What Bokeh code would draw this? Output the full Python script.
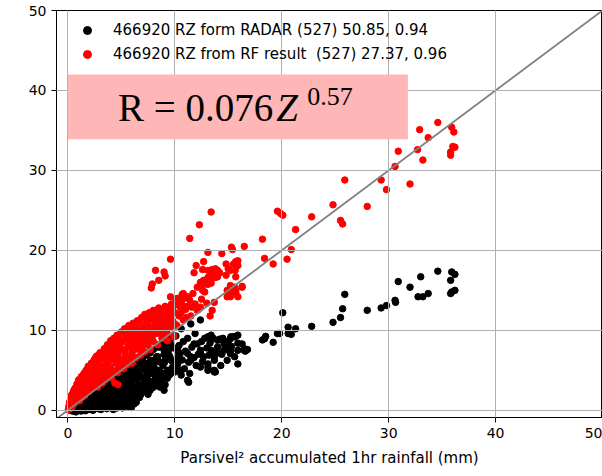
from bokeh.plotting import figure
from bokeh.models import Range1d, Label, BoxAnnotation, Legend, LegendItem, FixedTicker
from bokeh.embed import file_html
from bokeh.resources import INLINE

# ---- data ----
radar_label = "466920 RZ form RADAR (527) 50.85, 0.94"
rf_label = "466920 RZ from RF result  (527) 27.37, 0.96"
x_label = "Parsivel\u00b2 accumulated 1hr rainfall (mm)"
ticks = [0, 10, 20, 30, 40, 50]
one_to_one = [-1, 50]

radar_pts = [
    # dense part
    (0.1, 0.05), (0.2, 0.2), (0.3, 0.0), (0.35, 0.4), (0.5, 0.15), (0.45, -0.1), (0.6, 0.5), (0.7, 0.1), (0.8, 0.8), (0.75, -0.2),
    (0.9, 0.3), (1.0, 1.1), (1.05, 0.0), (1.1, 0.6), (1.2, 1.4), (1.25, -0.1), (1.3, 0.9), (1.4, 0.3), (1.5, 1.7), (1.5, 0.6),
    (1.6, 1.2), (1.65, -0.05), (1.7, 2.0), (1.8, 0.4), (1.85, 1.5), (1.9, 0.9), (2.0, 2.3), (2.0, 0.1), (2.1, 1.8), (2.2, 1.2), (2.2, 0.5),
    (2.3, 2.6), (2.35, 0.0), (2.4, 1.5), (2.5, 0.8), (2.55, 2.1), (2.6, 0.3), (2.7, 3.0), (2.75, 1.1), (2.8, 1.8), (2.9, 2.5), (2.95, 0.5), (3.0, 3.4), (3.0, 1.4),
    (3.1, 0.1), (3.15, 2.2), (3.2, 0.9), (3.3, 2.9), (3.35, 1.7), (3.4, 0.4), (3.5, 3.6), (3.5, 1.2), (3.6, 2.5), (3.65, 0.2), (3.7, 1.9), (3.8, 3.1), (3.8, 0.8),
    (3.9, 4.0), (3.95, 1.5), (4.0, 2.6), (4.1, 0.4), (4.15, 3.4), (4.2, 1.1), (4.3, 2.1), (4.35, 4.3), (4.4, 0.7), (4.5, 3.0), (4.55, 1.7), (4.6, 3.8), (4.6, 0.3),
    (4.7, 2.5), (4.75, 1.2), (4.8, 4.6), (4.9, 3.3), (4.95, 0.6), (5.0, 2.0), (5.1, 4.0), (5.15, 1.5), (5.2, 5.0), (5.25, 2.8), (5.3, 0.9), (5.4, 3.6), (5.4, 2.2),
    (5.5, 4.6), (5.55, 1.3), (5.6, 0.5), (5.65, 3.1), (5.7, 5.4), (5.8, 2.4), (5.85, 4.0), (5.9, 1.8), (6.0, 5.8), (6.0, 3.4), (6.1, 0.8), (6.2, 2.8), (6.25, 4.7), (6.3, 1.4),
    (6.4, 5.3), (6.45, 3.8), (6.5, 2.1), (6.6, 6.2), (6.65, 4.4), (6.7, 1.6), (6.8, 3.2), (6.9, 5.6), (6.95, 2.6), (7.0, 6.6), (7.05, 4.0), (7.1, 2.5), (7.2, 5.0),
    (7.3, 3.4), (7.35, 6.9), (7.4, 4.2), (7.5, 2.0), (7.55, 5.6), (7.6, 3.0), (7.7, 7.2), (7.8, 4.6), (7.85, 6.2), (7.9, 3.6), (8.0, 2.9), (8.0, 7.6), (8.1, 5.3), (8.2, 4.2),
    (8.3, 6.7), (8.4, 3.4), (8.5, 7.9), (8.55, 5.0), (8.7, 6.0), (8.75, 4.0), (8.8, 8.2), (8.9, 5.6), (9.0, 7.0), (9.1, 3.2), (9.15, 6.5), (9.2, 8.6),
    (9.3, 5.0), (9.4, 7.4), (9.5, 4.4), (9.6, 8.9), (9.7, 6.2), (9.8, 5.4), (9.9, 7.8), (10.0, 4.8), (10.1, 9.3), (10.2, 6.6), (10.3, 5.9), (10.4, 8.1), (10.5, 7.1),
    (10.6, 4.4), (10.7, 6.3), (10.8, 8.6), (10.9, 5.2), (11.0, 7.4), (11.2, 9.0), (11.3, 6.0), (11.4, 4.6), (11.6, 7.9), (11.8, 6.6), (11.9, 9.6), (12.0, 5.6),
    (12.2, 7.0), (12.5, 8.6), (12.6, 6.1), (12.8, 9.0), (13.0, 7.8), (13.2, 6.9), (13.3, 8.4), (13.6, 9.0), (13.8, 7.2), (14.2, 8.9), (14.4, 7.0), (14.5, 9.0),
    (14.8, 7.9), (15.0, 8.6), (15.3, 8.0), (15.5, 9.2), (15.9, 8.4), (16.3, 8.3), (16.6, 7.4), (16.8, 7.6),
    (0.4, 0.6), (0.65, 0.3), (0.9, 0.9), (1.15, 0.2), (1.35, 1.2), (1.55, 0.1), (1.75, 0.8), (1.95, 1.6), (2.15, 0.3), (2.25, 2.1),
    (2.45, 1.1), (2.65, 1.9), (2.85, 0.2), (2.9, 1.0), (3.1, 2.7), (3.25, 1.4), (3.45, 2.3), (3.55, 0.6), (3.75, 1.4), (3.9, 2.4),
    (4.05, 3.2), (4.25, 0.1), (4.3, 1.5), (4.45, 2.5), (4.7, 3.4), (4.8, 0.9), (4.85, 1.9), (5.05, 3.0), (5.1, 0.3), (5.3, 1.9),
    (5.45, 4.2), (5.6, 2.7), (5.75, 1.0), (5.8, 3.6), (5.95, 4.8), (6.05, 2.1), (6.15, 3.9), (6.3, 5.1), (6.4, 1.0), (6.55, 3.0),
    (6.6, 4.9), (6.85, 2.0), (6.9, 4.2), (7.1, 3.2), (7.25, 5.9), (7.45, 3.7), (7.6, 4.9), (7.7, 2.5), (7.95, 5.7), (8.1, 3.5),
    (8.3, 4.9), (8.45, 6.1), (8.6, 2.9), (8.9, 4.6), (9.05, 6.0), (9.3, 4.0), (9.5, 6.8), (9.7, 5.2), (10.0, 6.1), (10.3, 7.4), (10.5, 5.0),
    # mid part
    (12.4, 11.3), (11.5, 10.8), (10.6, 10.2), (8.85, 8.5), (9.3, 7.9), (13.4, 9.4), (14.0, 8.75), (15.2, 8.95), (15.9, 9.4), (16.5, 7.7),
    (14.6, 7.5), (13.7, 6.7), (13.1, 5.8), (14.3, 5.6), (13.1, 5.0), (13.7, 4.8), (11.3, 3.5), (19.6, 9.6), (18.4, 8.95), (19.2, 8.5),
    (9.6, 8.3), (9.0, 7.5), (8.4, 6.7), (7.75, 6.25), (6.8, 5.8), (6.2, 5.0), (7.4, 4.2), (8.4, 4.2), (9.6, 4.6), (9.0, 2.5),
    (7.1, 2.5), (6.5, 2.1), (10.2, 5.4), (11.2, 7.1), (11.5, 6.25), (12.1, 8.3), (12.4, 7.5), (12.7, 6.7), (13.4, 7.5), (14.0, 7.9),
    (14.6, 8.3), (15.2, 7.1), (15.9, 7.5), (14.9, 6.25), (15.6, 9.2), (16.5, 7.5), (15.25, 7.5), (15.9, 5.8), (14.3, 7.1), (13.7, 5.0),
    (13.1, 5.4), (11.2, 3.75), (12.4, 7.1), (11.5, 6.7), (9.9, 5.4), (8.7, 3.75), (8.0, 2.9), (13.7, 6.25), (11.8, 8.3), (13.1, 9.2),
    (14.9, 8.3), (15.6, 6.7), (12.4, 5.4), (5.6, 0.5), (6.2, 0.8), (5.95, 0.35), (13.8, 4.8),
    # sparse part
    (20.1, 12.2), (18.2, 8.8), (18.5, 9.25), (19.8, 9.6), (20.6, 9.6), (20.9, 9.5), (20.6, 10.4), (21.3, 10.2), (15.7, 9.25), (15.25, 9.2),
    (22.8, 10.5), (24.8, 11.0), (25.5, 11.6), (25.7, 12.7), (25.9, 14.5), (28.0, 12.5), (29.3, 12.8), (29.8, 13.1), (30.65, 13.5), (30.9, 16.1),
    (32.0, 15.4), (33.0, 16.7), (34.6, 17.4), (35.9, 17.3), (36.2, 17.0), (35.8, 16.25), (35.9, 14.8), (36.2, 15.0), (35.8, 14.6), (32.75, 14.2),
    (33.2, 14.2), (33.7, 14.6), (30.6, 13.75),
]

rf_pts = [
    # dense part
    (0.05, 0.1), (0.1, 0.5), (0.15, 1.0), (0.2, 0.2), (0.25, 1.4), (0.3, 0.7), (0.35, 1.9), (0.4, 0.4), (0.45, 1.2), (0.5, 2.3), (0.55, 0.8), (0.6, 1.7),
    (0.7, 2.8), (0.7, 1.0), (0.8, 2.1), (0.85, 3.3), (0.9, 1.4), (1.0, 2.6), (1.0, 3.8), (1.1, 1.2), (1.15, 3.1), (1.2, 2.0), (1.25, 4.2), (1.3, 1.6),
    (1.4, 3.5), (1.45, 2.5), (1.5, 4.6), (1.55, 1.8), (1.6, 3.0), (1.7, 5.0), (1.75, 2.2), (1.8, 4.0), (1.85, 3.3), (1.9, 5.5), (2.0, 2.4), (2.0, 4.5),
    (2.1, 3.6), (2.2, 5.9), (2.25, 2.7), (2.3, 4.9), (2.4, 4.1), (2.45, 6.3), (2.5, 3.1), (2.6, 5.4), (2.65, 3.6), (2.7, 6.8), (2.75, 4.6), (2.8, 2.9),
    (2.9, 5.9), (3.0, 3.9), (3.0, 7.2), (3.1, 5.0), (3.2, 6.5), (3.25, 3.4), (3.3, 4.4), (3.4, 7.7), (3.45, 5.6), (3.5, 3.8), (3.6, 6.9), (3.6, 4.8),
    (3.7, 8.2), (3.75, 6.1), (3.8, 4.3), (3.9, 7.4), (4.0, 5.4), (4.0, 8.7), (4.1, 4.0), (4.2, 6.6), (4.3, 9.0), (4.35, 4.9), (4.4, 7.8), (4.5, 5.9),
    (4.6, 9.4), (4.65, 4.7), (4.7, 7.0), (4.8, 8.4), (4.9, 5.5), (5.0, 9.8), (5.0, 6.4), (5.1, 7.6), (5.2, 5.2), (5.25, 8.9), (5.3, 10.2), (5.4, 6.8),
    (5.5, 9.3), (5.55, 5.7), (5.6, 7.9), (5.7, 10.6), (5.75, 6.3), (5.8, 8.6), (5.9, 9.9), (6.0, 7.2), (6.0, 5.9), (6.1, 10.9), (6.2, 8.2), (6.3, 9.4),
    (6.4, 6.6), (6.5, 11.2), (6.55, 7.8), (6.6, 10.1), (6.7, 8.9), (6.8, 6.9), (6.9, 11.6), (6.95, 9.6), (7.0, 8.0), (7.1, 10.6), (7.2, 7.3), (7.2, 12.0),
    (7.3, 9.1), (7.4, 11.0), (7.5, 8.2), (7.6, 12.2), (7.65, 10.0), (7.7, 7.6), (7.8, 11.4), (7.9, 9.2), (8.0, 12.5), (8.0, 8.6), (8.1, 10.6), (8.2, 11.8),
    (8.3, 9.6), (8.4, 8.2), (8.5, 12.8), (8.55, 11.0), (8.6, 10.2), (8.8, 9.0), (8.9, 12.1), (9.0, 10.8), (9.1, 13.0), (9.2, 9.7), (9.3, 11.6), (9.3, 8.7),
    (9.5, 12.6), (9.6, 10.4), (9.7, 13.3), (9.8, 11.2), (9.9, 9.4), (10.0, 12.2), (10.1, 13.7), (10.2, 10.6), (10.4, 11.8), (10.5, 12.9),
    (10.7, 13.8), (10.8, 11.3), (11.0, 12.6), (11.2, 14.2), (11.3, 13.0), (11.5, 11.8), (11.7, 14.6), (11.9, 13.3), (12.2, 12.6), (12.5, 13.9), (12.8, 14.8), (13.0, 13.4),
    (0.3, 1.5), (0.6, 2.6), (0.75, 1.6), (0.95, 3.0), (1.05, 2.0), (1.2, 3.4), (1.35, 2.6), (1.4, 4.3), (1.6, 3.7), (1.65, 2.3),
    (1.8, 4.7), (1.95, 3.0), (2.1, 5.3), (2.15, 4.2), (2.35, 3.3), (2.4, 5.4), (2.55, 4.5), (2.6, 6.6), (2.85, 5.2), (2.9, 3.4),
    (3.05, 6.4), (3.15, 4.4), (3.3, 7.2), (3.35, 5.2), (3.55, 6.3), (3.6, 4.2), (3.8, 7.8), (3.85, 5.5), (4.0, 6.3), (4.1, 4.6),
    (4.2, 8.2), (4.25, 7.2), (4.5, 8.8), (4.55, 6.5), (4.7, 5.2), (4.75, 9.0), (4.9, 7.6), (5.05, 8.5), (5.1, 5.9), (5.3, 9.6),
    (5.35, 7.3), (5.5, 6.2), (5.6, 10.0), (5.7, 8.3), (5.9, 6.7), (5.95, 10.4), (6.1, 9.1), (6.3, 7.6), (6.35, 10.6), (6.5, 9.6),
    (6.6, 8.5), (6.75, 11.0), (6.85, 7.5), (7.0, 10.2), (7.15, 8.6), (7.3, 11.6), (7.4, 9.8), (7.5, 10.7), (7.7, 8.9), (7.85, 12.0),
    (8.0, 9.9), (8.15, 11.2), (8.3, 12.4), (8.45, 10.4), (8.65, 11.6), (8.8, 9.6), (8.9, 10.4), (9.1, 11.9), (9.25, 10.2), (9.45, 11.0),
    (9.6, 12.0), (9.8, 12.8), (10.0, 10.8), (10.3, 13.2), (10.6, 12.2), (10.9, 13.0), (11.1, 11.6), (11.6, 12.9),
    (4.4, 3.4), (4.7, 3.2),
    # mid part
    (7.75, 12.1), (8.7, 12.5), (9.3, 12.7), (9.6, 11.5), (8.8, 11.0), (8.05, 11.7), (7.1, 11.7), (6.5, 11.0), (6.2, 10.4), (6.8, 9.8),
    (7.75, 9.6), (8.7, 10.0), (9.3, 9.6), (9.9, 9.2), (9.0, 9.0), (7.1, 8.75), (5.9, 9.6), (6.3, 8.3), (5.9, 7.9), (6.2, 6.5),
    (10.8, 14.6), (11.4, 13.75), (10.6, 13.1), (12.4, 12.9), (12.1, 12.5), (10.25, 14.0), (13.7, 13.5), (13.5, 12.5), (13.3, 11.8), (9.9, 10.6),
    (9.6, 14.2), (10.7, 14.5), (11.3, 14.0), (14.9, 14.2),
    (12.0, 18.1), (12.7, 18.6), (11.8, 17.2), (14.8, 18.3), (15.9, 18.7), (15.0, 17.7), (15.9, 18.1), (15.2, 17.5), (14.8, 16.9), (15.7, 16.7),
    (13.1, 17.5), (13.5, 17.6), (14.0, 17.5), (13.7, 17.1), (13.4, 16.9), (13.8, 16.6), (13.1, 16.6), (14.2, 17.2), (12.7, 16.25), (12.4, 15.6),
    (12.1, 15.4), (13.1, 15.75), (13.4, 15.9), (12.6, 15.0), (15.2, 15.6), (15.7, 14.8), (15.1, 15.0), (15.9, 14.2), (12.6, 17.6), (13.8, 17.7),
    (12.4, 16.0), (12.9, 15.8), (13.5, 16.5), (14.0, 16.7), (14.9, 15.0), (15.2, 14.8), (15.7, 15.0), (16.3, 15.5),
    (8.2, 17.5), (9.0, 17.3), (9.1, 16.8), (8.5, 16.25), (7.9, 15.8), (7.8, 15.3),
    # sparse part
    (34.6, 36.0), (32.9, 35.1), (35.9, 35.4), (36.1, 34.8), (33.7, 34.1), (30.9, 32.4), (32.7, 32.6), (33.2, 31.3), (36.0, 33.0), (36.2, 32.9),
    (35.8, 32.3), (35.8, 31.9), (30.6, 30.5), (25.9, 28.8), (29.3, 28.8), (29.8, 27.6), (32.0, 28.3), (24.8, 25.7), (28.0, 25.5), (22.8, 24.2),
    (25.5, 23.75), (25.7, 23.3), (19.6, 24.9), (19.9, 24.6), (20.1, 24.4), (21.3, 22.6), (18.2, 21.4), (16.5, 20.5), (15.3, 20.4), (15.4, 20.1),
    (20.9, 20.1), (18.4, 19.0), (20.5, 18.9), (19.2, 18.3), (15.7, 18.6), (15.5, 18.3), (15.65, 17.5), (15.6, 15.4), (15.3, 15.2), (15.7, 14.6),
    (16.3, 15.4), (15.2, 14.2), (13.4, 24.8), (12.3, 23.2), (11.4, 21.5), (9.6, 18.9), (13.1, 19.75), (14.4, 19.6),
]

radar_x = [p[0] for p in radar_pts]
radar_y = [p[1] for p in radar_pts]
rf_x = [p[0] for p in rf_pts]
rf_y = [p[1] for p in rf_pts]

# ---- figure ----
p = figure(width=602, height=476, x_range=Range1d(-1.06, 50), y_range=Range1d(-0.9, 50),
           output_backend="svg", toolbar_location=None,
           min_border_left=56, min_border_right=0, min_border_top=10, min_border_bottom=59)
p.background_fill_color = "white"
p.border_fill_color = "white"
p.outline_line_color = "black"
p.outline_line_width = 1

r1 = p.scatter(radar_x, radar_y, size=6.5, color="black")
r2 = p.scatter(rf_x, rf_y, size=6.5, color="red")
p.line(one_to_one, one_to_one, line_color="gray", line_width=1.8)

for g in (p.xgrid, p.ygrid):
    g.grid_line_color = "#b0b0b0"
    g.grid_line_width = 1
    g.level = "guide"

for ax in (p.xaxis, p.yaxis):
    ax.ticker = FixedTicker(ticks=ticks)
    ax.minor_tick_line_color = None
    ax.major_tick_in = 0
    ax.major_tick_out = 5
    ax.major_tick_line_color = "black"
    ax.axis_line_color = "black"
    ax.major_label_text_font = "DejaVu Sans"
    ax.major_label_text_font_size = "14px"
    ax.major_label_text_color = "black"
    ax.major_label_standoff = 5

p.xaxis.axis_label = x_label
p.xaxis.axis_label_text_font = "DejaVu Sans"
p.xaxis.axis_label_text_font_size = "15px"
p.xaxis.axis_label_text_font_style = "normal"
p.xaxis.axis_label_text_color = "black"
p.xaxis.axis_label_standoff = 8

# formula box
box = BoxAnnotation(left=0.0, right=31.8, bottom=33.9, top=42.0,
                    fill_color="#ffb6b6", fill_alpha=1.0, line_color=None)
p.add_layout(box)
p.add_layout(Label(x=4.7, y=37.9, text="R = 0.076", text_font="Liberation Serif",
                   text_font_size="39px", text_baseline="alphabetic", text_color="black"))
p.add_layout(Label(x=19.5, y=37.9, text="Z", text_font="Liberation Serif", text_font_style="italic",
                   text_font_size="39px", text_baseline="alphabetic", text_color="black"))
p.add_layout(Label(x=22.4, y=39.25, text="0.57", text_font="Liberation Serif",
                   text_font_size="26px", text_baseline="alphabetic", text_color="black"))

legend = Legend(items=[LegendItem(label=radar_label, renderers=[r1]),
                       LegendItem(label=rf_label, renderers=[r2])],
                location=(21, 353), border_line_color=None, background_fill_alpha=0,
                label_text_font="DejaVu Sans", label_text_font_size="15px", label_text_color="black",
                glyph_width=20, glyph_height=20, label_height=20, spacing=4,
                padding=5, margin=0, label_standoff=16)
p.add_layout(legend)

open("out.html", "w").write(file_html(p, INLINE))
